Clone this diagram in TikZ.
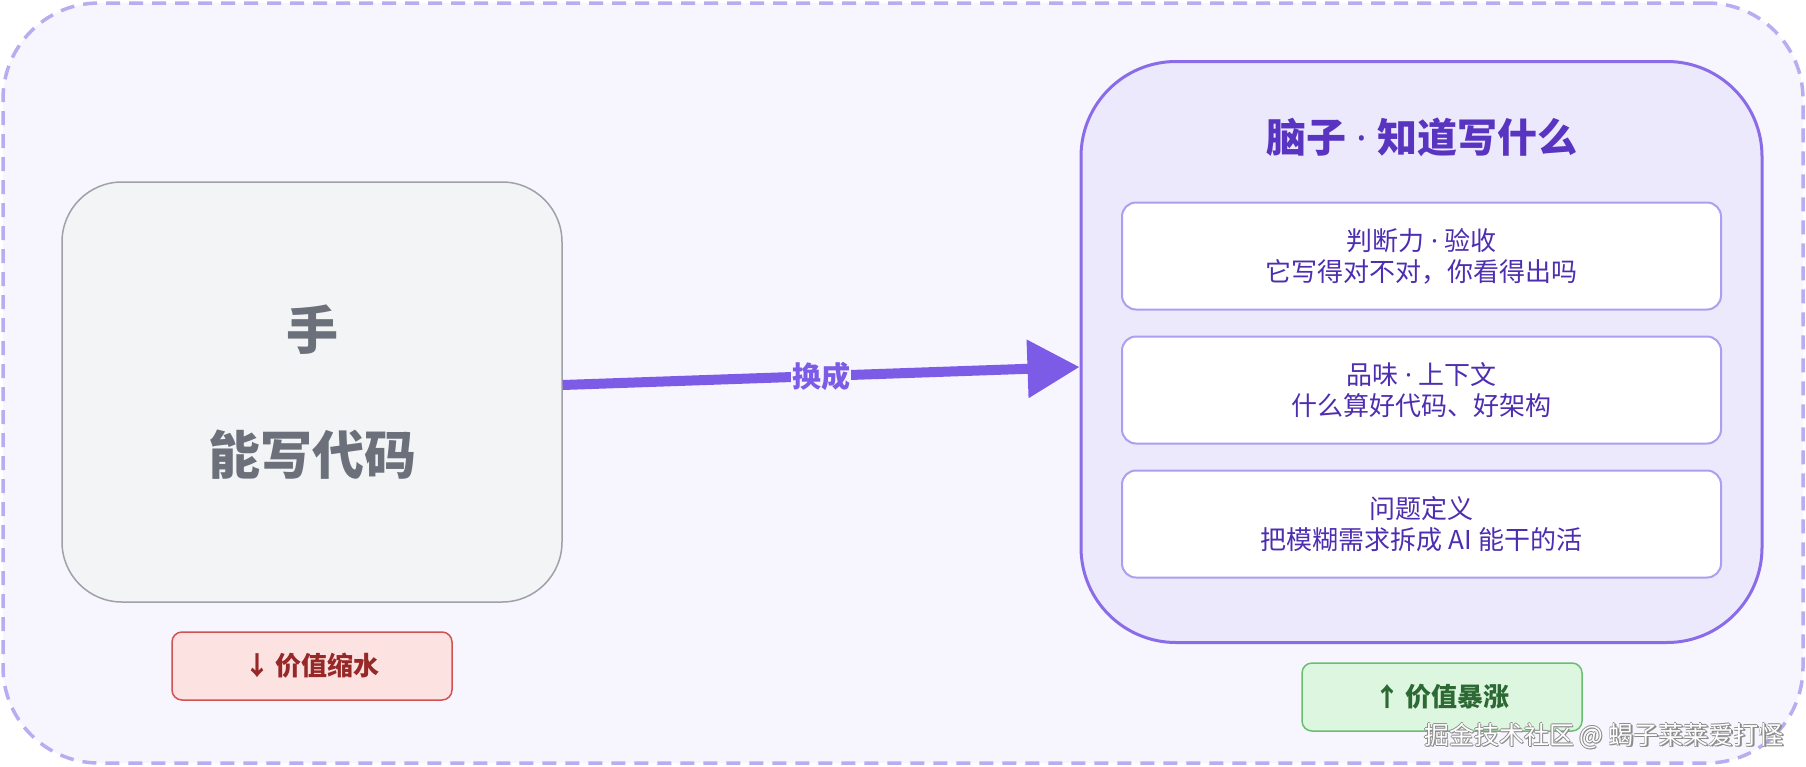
\documentclass[tikz,border=0pt]{standalone}
\usepackage{fontspec}
\setmainfont{Noto Sans CJK SC}
\newfontfamily\latinf{Noto Sans}
\newcommand{\mdot}{{\latinf\ ·\ }}
\usepackage{tikz}
\usetikzlibrary{positioning,arrows.meta}
\definecolor{pagebg}{RGB}{247,245,253}
\definecolor{dashline}{RGB}{185,172,240}
\definecolor{handfill}{RGB}{243,244,246}
\definecolor{handline}{RGB}{160,160,168}
\definecolor{handtext}{RGB}{107,112,122}
\definecolor{brainfill}{RGB}{237,233,253}
\definecolor{brainline}{RGB}{139,108,232}
\definecolor{braintext}{RGB}{88,52,192}
\definecolor{itemline}{RGB}{172,158,240}
\definecolor{itemtext}{RGB}{78,46,176}
\definecolor{arrowvio}{RGB}{124,92,231}
\definecolor{downfill}{RGB}{253,226,226}
\definecolor{downline}{RGB}{208,82,82}
\definecolor{downtext}{RGB}{150,40,40}
\definecolor{upfill}{RGB}{221,246,223}
\definecolor{upline}{RGB}{107,190,112}
\definecolor{uptext}{RGB}{45,105,52}
\tikzset{
  framebox/.style ={rectangle, rounded corners=96pt, draw=dashline, fill=pagebg, line width=3.5pt,
                dash pattern=on 14pt off 9pt, minimum width=1800pt, minimum height=760pt},
  handbox/.style ={rectangle, rounded corners=60pt, draw=handline, fill=handfill, line width=1.5pt,
                minimum width=500pt, minimum height=420pt, align=center, text=handtext,
                font=\fontsize{52}{125}\selectfont\bfseries},
  brainbox/.style ={rectangle, rounded corners=95pt, draw=brainline, fill=brainfill, line width=3pt,
                minimum width=681pt, minimum height=581pt},
  braintitle/.style ={text=braintext, font=\fontsize{40}{48}\selectfont\bfseries},
  itembox/.style ={rectangle, rounded corners=14pt, draw=itemline, fill=white, line width=2pt,
                minimum width=599pt, minimum height=107pt, align=center, text=itemtext,
                font=\fontsize{26}{31}\selectfont},
  badge/.style ={rectangle, rounded corners=10pt, line width=1.5pt, minimum width=280pt,
                minimum height=68pt, font=\fontsize{26}{30}\selectfont\bfseries},
  badgedown/.style ={badge, draw=downline, fill=downfill, text=downtext},
  badgeup/.style ={badge, draw=upline, fill=upfill, text=uptext},
  trade/.style ={-{Triangle[length=52pt,width=56pt]}, line width=10pt, draw=arrowvio},
  wmshade/.style ={text=black!45, font=\fontsize{25}{30}\selectfont},
  wmtext/.style ={text=white, font=\fontsize{25}{30}\selectfont},
}

\begin{document}
\begin{tikzpicture}[x=1pt, y=-1pt, node distance=25pt]
\useasboundingbox (0,0) rectangle (1806,766);
\node[framebox] (frame) at (903,383) {};
% left: hands
\node[handbox] (hand) at (312,392) {手\\能写代码};
\node[badgedown] (down) at (312,666) {↓ 价值缩水};
% right: brain
\node[brainbox] (brain) at (1421.5,352) {};
\node[braintitle] (title) at (1422,137) {脑子\mdot 知道写什么};
\node[itembox] (judge) at (1421.5,256) {判断力\mdot 验收\\它写得对不对，你看得出吗};
\node[itembox, below=of judge] (taste) {品味\mdot 上下文\\什么算好代码、好架构};
\node[itembox, below=of taste] (define) {问题定义\\把模糊需求拆成 AI 能干的活};
\node[badgeup] (up) at (1442,697) {↑ 价值暴涨};
\draw[trade] ([yshift=7pt]hand.east) -- node[fill=pagebg, inner sep=1pt, text=arrowvio,
  font=\fontsize{29}{34}\selectfont\bfseries] (swapl) {换成} ([yshift=-15pt]brain.west);
% watermark
\foreach \dx/\dy [count=\i] in {0.8/0,-0.8/0,0/0.8,0/-0.8,1.2/1.2}
  \node[wmshade] (wm\i) at (1604+\dx,736+\dy) {掘金技术社区 @ 蝎子莱莱爱打怪};
\node[wmtext] (wm) at (1604,736) {掘金技术社区 @ 蝎子莱莱爱打怪};
\end{tikzpicture}
\end{document}
